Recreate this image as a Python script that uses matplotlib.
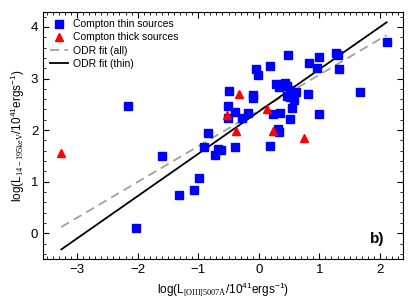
import numpy as np
import matplotlib.pyplot as plt
from matplotlib.ticker import MultipleLocator

plt.rcParams['font.family'] = ['Liberation Sans', 'DejaVu Sans']
plt.rcParams['mathtext.fontset'] = 'custom'
plt.rcParams['mathtext.rm'] = 'Liberation Serif'
plt.rcParams['mathtext.sf'] = 'Liberation Sans'

# Compton thin sources
x_thin = np.array([-2.16, -2.02, -1.59, -1.31, -1.07, -0.98, -0.84, -0.90, -0.67, -0.72,
                   -0.49, -0.51, -0.51, -0.39, -0.39, -0.62, -0.28, -0.18, -0.09, -0.10,
                   -0.04, -0.01, 0.19, 0.48, 0.28, 0.33, 0.44, 0.47, 0.52, 0.62,
                   0.46, 0.52, 0.58, 0.55, 0.23, 0.35, 0.51, 0.81, 0.99, 0.83,
                   0.99, 0.96, 1.28, 1.31, 1.33, 1.67, 2.11, 0.31, 0.33, 0.18])
y_thin = np.array([2.47, 0.10, 1.50, 0.74, 0.84, 1.07, 1.95, 1.68, 1.64, 1.52,
                   2.75, 2.46, 2.24, 2.36, 1.68, 1.62, 2.24, 2.34, 2.69, 2.63,
                   3.19, 3.06, 3.24, 3.46, 2.90, 2.83, 2.92, 2.85, 2.77, 2.73,
                   2.66, 2.64, 2.59, 2.42, 2.32, 2.33, 2.22, 2.70, 2.32, 3.31,
                   3.42, 3.21, 3.50, 3.46, 3.18, 2.73, 3.70, 2.03, 1.96, 1.69])

# Compton thick sources
x_thick = np.array([-3.26, -0.33, -0.53, -0.37, 0.13, 0.24, 0.74])
y_thick = np.array([1.56, 2.70, 2.30, 1.99, 2.40, 1.99, 1.84])

# ODR fits: slope, intercept
fit_all = (0.693, 2.38)
fit_thin = (0.82, 2.36)

fig = plt.figure(figsize=(4.15, 3.08), dpi=100)
ax = fig.add_axes([0.104, 0.159, 0.867, 0.802])

ax.plot(x_thin, y_thin, 's', color='blue', markersize=6, label='Compton thin sources', zorder=3)
ax.plot(x_thick, y_thick, '^', color='red', markersize=6, label='Compton thick sources', zorder=3)

xx = np.linspace(min(x_thin.min(), x_thick.min()), max(x_thin.max(), x_thick.max()), 100)
ax.plot(xx, fit_all[0] * xx + fit_all[1], '--', color='#a0a0a0', lw=1.3, dashes=(5, 3), label='ODR fit (all)')
ax.plot(xx, fit_thin[0] * xx + fit_thin[1], '-', color='black', lw=1.3, label='ODR fit (thin)')

ax.set_xlim(-3.56, 2.38)
ax.set_ylim(-0.5, 4.29)
ax.xaxis.set_major_locator(MultipleLocator(1))
ax.xaxis.set_minor_locator(MultipleLocator(0.1))
ax.yaxis.set_major_locator(MultipleLocator(1))
ax.yaxis.set_minor_locator(MultipleLocator(0.2))
ax.tick_params(which='both', direction='in', top=True, right=True, labelsize=9.5)
ax.tick_params(which='major', length=4)
ax.tick_params(which='minor', length=2)

ax.set_xlabel(r'log(L$_{\rm [OIII]5007\AA}$/10$^{\mathsf{41}}$ergs$^{\mathsf{-1}}$)', fontsize=8.5, labelpad=3)
ax.set_ylabel(r'log(L$_{\rm 14-195keV}$/10$^{\mathsf{41}}$ergs$^{\mathsf{-1}}$)', fontsize=8.5, labelpad=3)

ax.legend(loc='upper left', frameon=False, fontsize=7.5, handlelength=1.7,
          handletextpad=0.5, borderaxespad=0.3, labelspacing=0.3)
ax.text(0.928, 0.081, 'b)', transform=ax.transAxes, fontsize=11, fontweight='bold',
        ha='center', va='center')

fig.savefig('out.png', dpi=100)
